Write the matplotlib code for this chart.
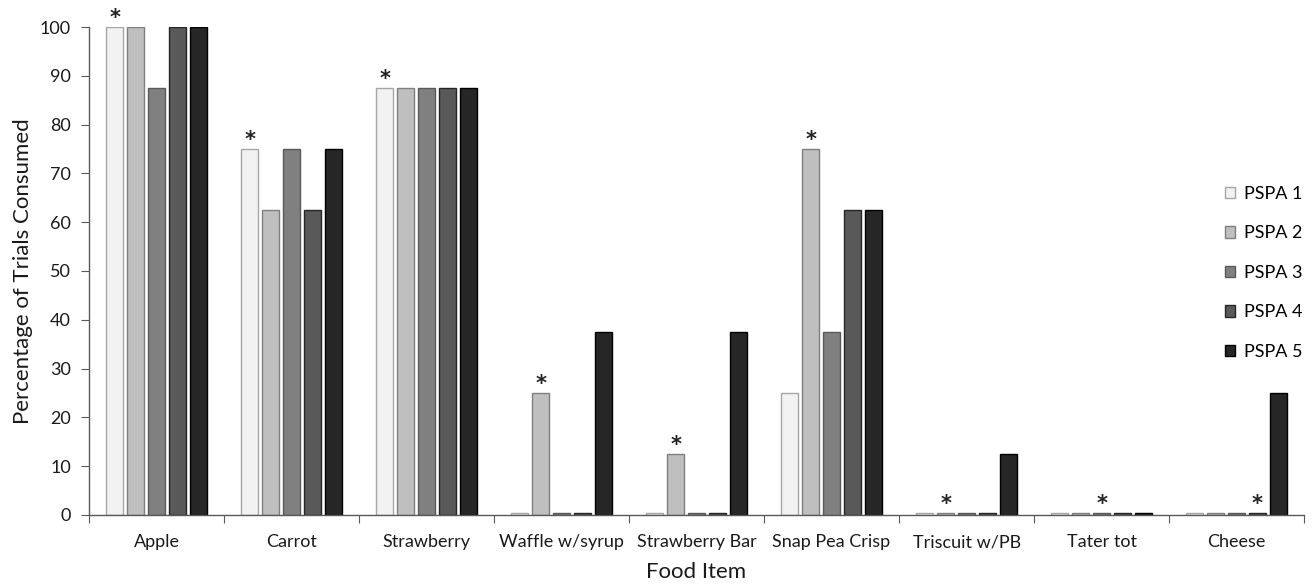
import numpy as np
import matplotlib
matplotlib.use("Agg")
import matplotlib.pyplot as plt

categories = ["Apple", "Carrot", "Strawberry", "Waffle w/syrup", "Strawberry Bar",
              "Snap Pea Crisp", "Triscuit w/PB", "Tater tot", "Cheese"]
series_names = ["PSPA 1", "PSPA 2", "PSPA 3", "PSPA 4", "PSPA 5"]
pspa1 = [100, 75, 87.5, 0, 0, 25, 0, 0, 0]
pspa2 = [100, 62.5, 87.5, 25, 12.5, 75, 0, 0, 0]
pspa3 = [87.5, 75, 87.5, 0, 0, 37.5, 0, 0, 0]
pspa4 = [100, 62.5, 87.5, 0, 0, 62.5, 0, 0, 0]
pspa5 = [100, 75, 87.5, 37.5, 37.5, 62.5, 12.5, 0, 25]
# index of the series marked with an asterisk, per category
star_series = [0, 0, 0, 1, 1, 1, 1, 2, 3]

series = [pspa1, pspa2, pspa3, pspa4, pspa5]
faces = ["#f2f2f2", "#bfbfbf", "#808080", "#595959", "#262626"]
edges = ["#a6a6a6", "#7f7f7f", "#595959", "#262626", "#000000"]

plt.rcParams['font.family'] = ['Lato', 'DejaVu Sans']

fig = plt.figure(figsize=(13.12, 5.86), dpi=100)
ax = fig.add_axes([0.0678, 0.1212, 0.9262, 0.8327])

x = np.arange(len(categories))
step = 0.155
width = 0.124
min_show = 0.45
for i, (vals, fc, ec, name) in enumerate(zip(series, faces, edges, series_names)):
    v = np.array(vals, dtype=float)
    shown = np.where(v == 0, min_show, v)
    ax.bar(x + (i - 2) * step, shown, width=width, color=fc, edgecolor=ec,
           linewidth=1.0, label=name, zorder=3)

for c, s in enumerate(star_series):
    val = series[s][c]
    ax.text(x[c] + (s - 2) * step, max(val, min_show) + 1.8, "*", ha="center",
            va="center", fontsize=15, fontweight="bold", color="#222222",
            family="DejaVu Sans")

ax.set_xlim(-0.5, len(categories) - 0.5)
ax.set_ylim(0, 100)
ax.set_yticks(np.arange(0, 101, 10))
ax.set_xticks(np.arange(-0.5, len(categories), 1.0))
ax.set_xticklabels([])
ax.set_xticks(x, minor=True)
ax.set_xticklabels(categories, minor=True, fontsize=13, color="#1a1a1a")
ax.tick_params(axis="x", which="minor", length=0, pad=14)
ax.tick_params(axis="x", which="major", length=6, direction="out", color="#595959")
ax.tick_params(axis="y", length=6, direction="out", color="#595959",
               labelsize=13, labelcolor="#1a1a1a", pad=7)
for sp in ["top", "right"]:
    ax.spines[sp].set_visible(False)
for sp in ["left", "bottom"]:
    ax.spines[sp].set_color("#595959")
    ax.spines[sp].set_linewidth(1.0)
ax.spines["bottom"].set_zorder(4)

ax.set_ylabel("Percentage of Trials Consumed", fontsize=16, color="#1a1a1a", labelpad=5)
ax.set_xlabel("Food Item", fontsize=16, color="#1a1a1a", labelpad=8)

leg = ax.legend(loc="upper left", bbox_to_anchor=(0.9286, 0.6895), frameon=False,
                fontsize=13, handlelength=0.6, handleheight=0.6, handletextpad=0.45,
                labelspacing=1.3, borderaxespad=0)

fig.savefig("out.png", dpi=100)
